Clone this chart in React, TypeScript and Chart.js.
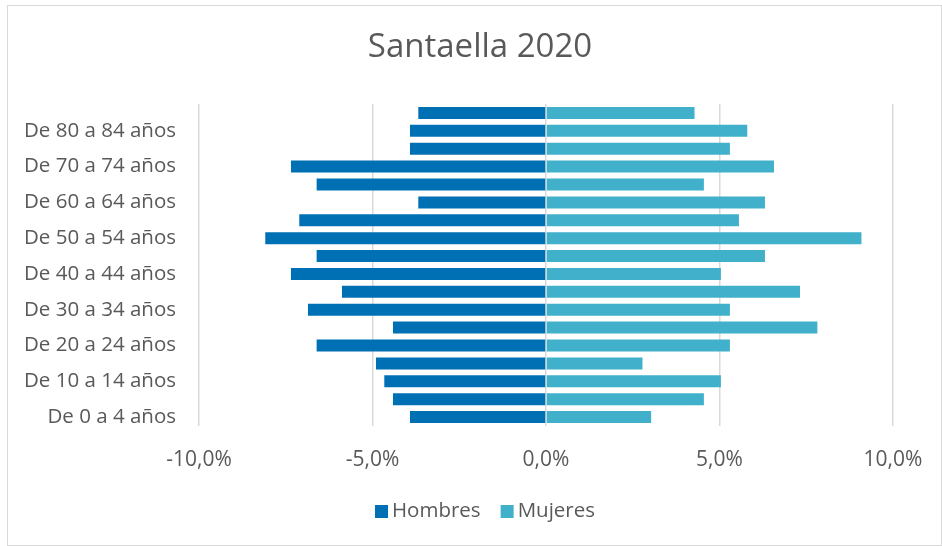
import React, { useEffect, useRef } from "react";
import { Chart, registerables } from "chart.js";

Chart.register(...registerables);

const categories = [
  "De 0 a 4 años", "De 5 a 9 años", "De 10 a 14 años", "De 15 a 19 años",
  "De 20 a 24 años", "De 25 a 29 años", "De 30 a 34 años", "De 35 a 39 años",
  "De 40 a 44 años", "De 45 a 49 años", "De 50 a 54 años", "De 55 a 59 años",
  "De 60 a 64 años", "De 65 a 69 años", "De 70 a 74 años", "De 75 a 79 años",
  "De 80 a 84 años", "De 85 y más años",
];

// percentages (men shown negative)
const hombres = [3.92, 4.41, 4.66, 4.9, 6.61, 4.41, 6.86, 5.88, 7.35, 6.61, 8.09, 7.11, 3.68, 6.61, 7.35, 3.92, 3.92, 3.68];
const mujeres = [3.03, 4.55, 5.04, 2.78, 5.3, 7.82, 5.3, 7.32, 5.04, 6.31, 9.09, 5.56, 6.31, 4.55, 6.57, 5.3, 5.8, 4.28];

const xTicks = [-10, -5, 0, 5, 10];
const title = "Santaella 2020";
const seriesNames = ["Hombres", "Mujeres"];
const seriesColors = ["#0070b4", "#41b0ca"];

const FONT = "'Open Sans', Roboto, sans-serif";
const TEXT = "#595959";

const titleLegendPlugin = {
  id: "titleLegend",
  afterDraw(chart: any) {
    const ctx = chart.ctx as CanvasRenderingContext2D;
    ctx.save();
    // title
    ctx.fillStyle = TEXT;
    ctx.font = `33px ${FONT}`;
    ctx.textAlign = "center";
    ctx.textBaseline = "middle";
    ctx.fillText(title, 472, 41.5);
    // legend
    ctx.font = `20.5px ${FONT}`;
    ctx.textAlign = "left";
    const box = 13;
    const gap = 4;
    const itemGap = 20;
    const widths = seriesNames.map((n) => ctx.measureText(n).width);
    const total = widths.reduce((a, w) => a + box + gap + w, 0) + itemGap * (seriesNames.length - 1);
    let x = 477 - total / 2;
    const yc = 505.5;
    seriesNames.forEach((n, i) => {
      ctx.fillStyle = seriesColors[i];
      ctx.fillRect(x, yc - box / 2, box, box);
      x += box + gap;
      ctx.fillStyle = TEXT;
      ctx.fillText(n, x, yc);
      x += widths[i] + itemGap;
    });
    ctx.restore();
  },
};

export default function App() {
  const ref = useRef<HTMLCanvasElement | null>(null);
  useEffect(() => {
    document.body.style.margin = "0";
    const canvas = ref.current!;
    const chart = new Chart(canvas, {
      type: "bar",
      data: {
        labels: categories,
        datasets: seriesNames.map((name, i) => ({
          label: name,
          data: i === 0 ? hombres.map((v) => -v) : mujeres,
          backgroundColor: seriesColors[i],
          borderWidth: 0,
          barPercentage: 0.67,
          categoryPercentage: 1,
        })),
      },
      options: {
        indexAxis: "y",
        animation: false,
        responsive: false,
        maintainAspectRatio: false,
        layout: { padding: { left: 0, right: 48, top: 98, bottom: 55.4 } },
        plugins: {
          title: { display: false },
          legend: { display: false },
          tooltip: { enabled: false },
        },
        scales: {
          x: {
            stacked: true,
            min: -10,
            max: 10,
            afterBuildTicks: (s: any) => {
              s.ticks = xTicks.map((v) => ({ value: v }));
            },
            afterFit: (s: any) => {
              s.height = 63.6;
              s.paddingLeft = 0;
              s.paddingRight = 0;
            },
            grid: { color: "#d9d9d9", lineWidth: 1.5, drawTicks: false },
            border: { display: false },
            ticks: {
              color: TEXT,
              padding: 21,
              font: { family: FONT, size: 21 },
              callback: (v: any) => Number(v).toFixed(1).replace(".", ",") + "%",
            },
          },
          y: {
            stacked: true,
            reverse: true,
            afterFit: (s: any) => {
              s.width = 191;
            },
            grid: { display: false, drawTicks: false },
            border: { display: false },
            ticks: {
              color: TEXT,
              padding: 23,
              autoSkip: false,
              font: { family: FONT, size: 20.5 },
              callback: (_v: any, i: number) => (i % 2 === 0 ? categories[i] : ""),
            },
          },
        },
      },
      plugins: [titleLegendPlugin],
    });
    return () => chart.destroy();
  }, []);
  return (
    <div
      style={{
        position: "absolute",
        left: 7,
        top: 5,
        width: 933,
        height: 539,
        border: "1px solid #d9d9d9",
        background: "#fff",
      }}
    >
      <canvas ref={ref} width={933} height={539} style={{ display: "block" }} />
    </div>
  );
}
